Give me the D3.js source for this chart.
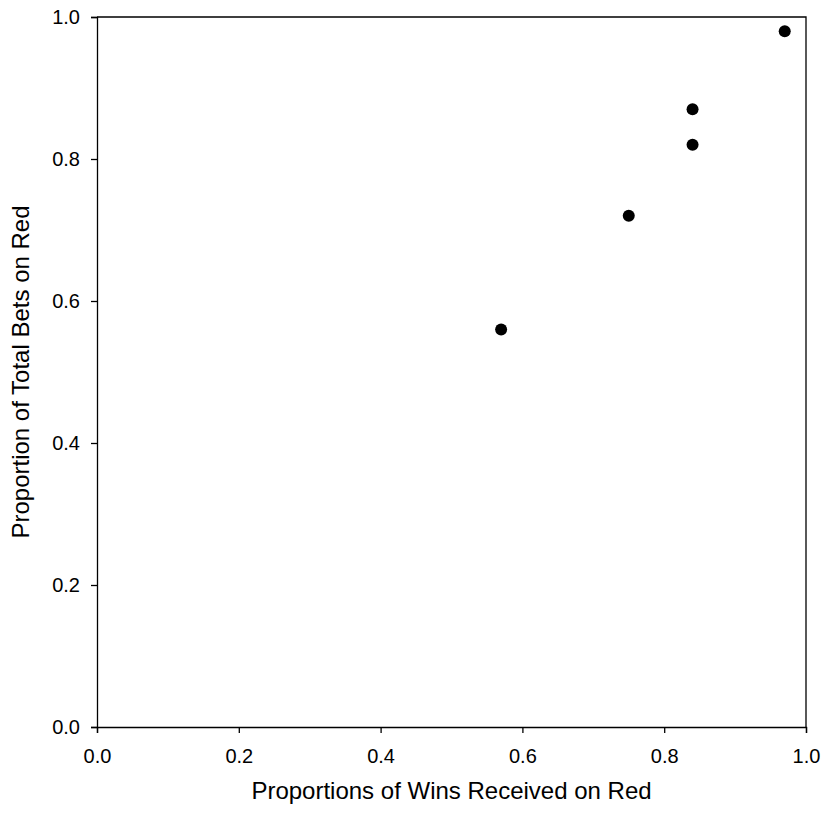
<!DOCTYPE html>
<html>
<head>
<meta charset="utf-8">
<script src="https://cdn.jsdelivr.net/npm/d3@7"></script>
<style>
  body { margin: 0; background: #fff; }
  .axis text { font-family: "Liberation Sans", Arial, sans-serif; font-size: 20px; fill: #000; }
  .axis path, .axis line { stroke: #000; stroke-width: 1.3; }
  .title { font-family: "Liberation Sans", Arial, sans-serif; font-size: 24px; fill: #000; }
</style>
</head>
<body>
<div id="chart"></div>
<script>
// wins received on red vs share of bets placed on red
const winsRed = [0.57, 0.75, 0.84, 0.84, 0.97];
const betsRed = [0.56, 0.72, 0.82, 0.87, 0.98];
const ticks = [0, 0.2, 0.4, 0.6, 0.8, 1.0];

const data = winsRed.map((w, i) => ({x: w, y: betsRed[i]}));

const W = 823, H = 814;
const margin = {t: 17, r: 17, b: 87, l: 97};
const w = W - margin.l - margin.r;
const h = H - margin.t - margin.b;

const svg = d3.select('#chart').append('svg')
  .attr('width', W)
  .attr('height', H);

const plot = svg.append('g')
  .attr('transform', `translate(${margin.l},${margin.t})`);

const scaleX = d3.scaleLinear().domain([0, 1]).range([0, w]);
const scaleY = d3.scaleLinear().domain([0, 1]).range([h, 0]);

// frame: top and right edges without ticks
plot.append('path')
  .attr('d', `M0,0H${w}V${h}`)
  .attr('fill', 'none')
  .attr('stroke', '#000')
  .attr('stroke-width', 1.3);

plot.append('g')
  .attr('class', 'axis axis-x')
  .attr('transform', `translate(0,${h})`)
  .call(d3.axisBottom(scaleX).tickValues(ticks).tickFormat(d3.format('.1f')).tickSizeOuter(0).tickSize(6).tickPadding(16));

plot.append('g')
  .attr('class', 'axis axis-y')
  .call(d3.axisLeft(scaleY).tickValues(ticks).tickFormat(d3.format('.1f')).tickSizeOuter(0).tickSize(6).tickPadding(11));

plot.selectAll('.dot')
  .data(data)
  .enter()
  .append('circle')
  .attr('class', 'dot')
  .attr('cx', d => scaleX(d.x))
  .attr('cy', d => scaleY(d.y))
  .attr('r', 6)
  .attr('fill', '#000');

svg.append('text')
  .attr('class', 'title')
  .attr('x', margin.l + w / 2)
  .attr('y', 799)
  .attr('text-anchor', 'middle')
  .text('Proportions of Wins Received on Red');

svg.append('text')
  .attr('class', 'title')
  .attr('transform', `translate(29,${margin.t + h / 2}) rotate(-90)`)
  .attr('text-anchor', 'middle')
  .text('Proportion of Total Bets on Red');
</script>
</body>
</html>
